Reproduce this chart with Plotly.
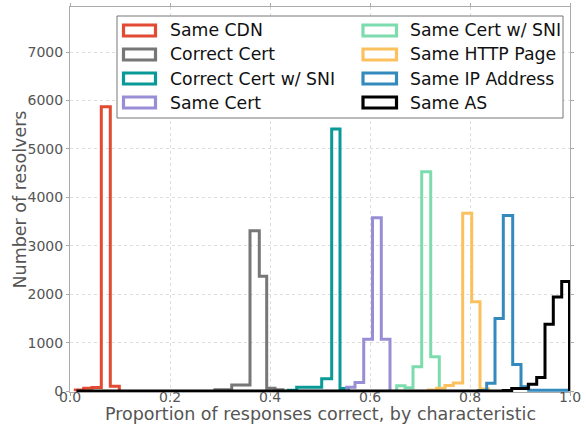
import plotly.graph_objects as go

# ---------------- data ----------------
names = ["Same CDN", "Correct Cert", "Correct Cert w/ SNI", "Same Cert",
         "Same Cert w/ SNI", "Same HTTP Page", "Same IP Address", "Same AS"]
colors = ["#E24A33", "#777777", "#089A96", "#988ED5",
          "#7DDCAE", "#FBC15E", "#348ABD", "#000000"]

cdn_edges = [0.0106, 0.0274, 0.044, 0.0626, 0.0806, 0.0986]
cdn_counts = [20, 55, 75, 5870, 100]

cert_edges = [0.29, 0.3234, 0.36, 0.3786, 0.3934, 0.41, 0.426]
cert_counts = [25, 125, 3310, 2370, 60, 25]

cert_sni_edges = [0.436, 0.4534, 0.5034, 0.5234, 0.54, 0.5566]
cert_sni_counts = [15, 78, 255, 5410, 50]

same_cert_edges = [0.5534, 0.57, 0.5874, 0.605, 0.6226, 0.64]
same_cert_counts = [80, 175, 1070, 3580, 1070]

same_cert_sni_edges = [0.6534, 0.67, 0.686, 0.7034, 0.7214, 0.7386]
same_cert_sni_counts = [110, 70, 500, 4530, 710]

http_edges = [0.7166, 0.7334, 0.75, 0.7666, 0.7854, 0.8034, 0.82, 0.8366]
http_counts = [20, 55, 115, 165, 3670, 1845, 40]

ip_edges = [0.8166, 0.8334, 0.85, 0.8666, 0.8854, 0.902, 0.9174, 0.999]
ip_counts = [10, 160, 1500, 3625, 550, 90, 15]

as_edges = [0.013, 0.8666, 0.8834, 0.9166, 0.9334, 0.95, 0.9666, 0.9834, 0.999]
as_counts = [0, 10, 50, 140, 280, 1380, 1940, 2260]

x_ticks = [0.0, 0.2, 0.4, 0.6, 0.8, 1.0]
y_ticks = [0, 1000, 2000, 3000, 4000, 5000, 6000, 7000]

series = [
    (cdn_edges, cdn_counts), (cert_edges, cert_counts),
    (cert_sni_edges, cert_sni_counts), (same_cert_edges, same_cert_counts),
    (same_cert_sni_edges, same_cert_sni_counts), (http_edges, http_counts),
    (ip_edges, ip_counts), (as_edges, as_counts),
]

FONT = "DejaVu Sans"
fig = go.Figure()

for (edges, counts), name, color in zip(series, names, colors):
    xs = [edges[0]] + list(edges)
    ys = [0] + list(counts) + [0]
    fig.add_trace(go.Scatter(
        x=xs, y=ys, mode="lines", name=name,
        line=dict(color=color, width=3, shape="hv"),
        showlegend=False, hoverinfo="skip",
    ))

# ---------------- layout ----------------
L, R, T, B = 70, 570, 7, 392
W, H = 586, 429

fig.update_layout(
    width=W, height=H,
    margin=dict(l=L, r=W - R, t=T, b=H - B, pad=0, autoexpand=False),
    paper_bgcolor="white", plot_bgcolor="white",
    font=dict(family=FONT, color="#555555", size=14),
    xaxis=dict(
        range=[0, 1], tickvals=x_ticks, tickformat=".1f",
        showline=True, linecolor="#aaaaaa", linewidth=1, mirror="ticks",
        ticks="outside", ticklen=3, tickcolor="#aaaaaa",
        ticklabelstandoff=-11,
        showgrid=True, gridcolor="#dddddd", griddash="dot", gridwidth=1,
        zeroline=False, layer="below traces", automargin=False,
        tickfont=dict(size=14, color="#555555"),
        title=dict(text=""),
    ),
    yaxis=dict(
        range=[-20, 7930], tickvals=y_ticks,
        showline=True, linecolor="#aaaaaa", linewidth=1, mirror="ticks",
        ticks="outside", ticklen=3, tickcolor="#aaaaaa",
        showgrid=True, gridcolor="#dddddd", griddash="dot", gridwidth=1,
        zeroline=False, layer="below traces", automargin=False,
        tickfont=dict(size=14, color="#555555"),
        title=dict(text=""),
    ),
)

# axis titles as annotations for exact placement
fig.add_annotation(xref="paper", yref="paper", x=0.5, y=(B - 414) / (B - T),
                   text="Proportion of responses correct, by characteristic",
                   showarrow=False, xanchor="center", yanchor="middle",
                   font=dict(family=FONT, size=17.5, color="#555555"))
fig.add_annotation(xref="paper", yref="paper", x=(19 - L) / (R - L), y=0.5,
                   text="Number of resolvers", textangle=-90,
                   showarrow=False, xanchor="center", yanchor="middle",
                   font=dict(family=FONT, size=17.5, color="#555555"))

# ---------------- legend (two columns, drawn in paper coords) ----------------
def px_x(p):
    return (p - L) / (R - L)

def px_y(p):
    return (B - p) / (B - T)

fig.add_shape(type="rect", xref="paper", yref="paper",
              x0=px_x(117), x1=px_x(563), y0=px_y(118), y1=px_y(16),
              line=dict(color="#777777", width=1), fillcolor="white", layer="above")

col_sym = [(123.5, 155.5), (363, 396.5)]
col_txt = [168, 408]
for i, (name, color) in enumerate(zip(names, colors)):
    col, row = divmod(i, 4)
    yc = 30.5 + 24 * row
    fig.add_shape(type="rect", xref="paper", yref="paper",
                  x0=px_x(col_sym[col][0]), x1=px_x(col_sym[col][1]),
                  y0=px_y(yc + 5.5), y1=px_y(yc - 5.5),
                  line=dict(color=color, width=3.2), fillcolor="white", layer="above")
    fig.add_annotation(xref="paper", yref="paper", x=px_x(col_txt[col]), y=px_y(yc),
                       text=name, showarrow=False, xanchor="left", yanchor="middle",
                       font=dict(family=FONT, size=17.3, color="#111111"))

fig.write_html("out.html",
               config={"displayModeBar": False},
               post_script="document.body.style.margin='0';"
                           "document.body.style.overflow='hidden';")
